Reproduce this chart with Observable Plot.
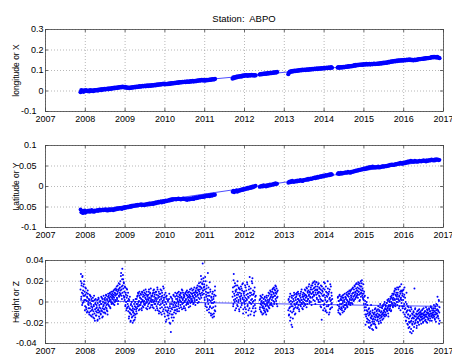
<!DOCTYPE html>
<html>
<head>
<meta charset="utf-8">
<script src="https://cdn.jsdelivr.net/npm/d3@7"></script>
<script src="https://cdn.jsdelivr.net/npm/@observablehq/plot@0.6"></script>
<style>
  body { margin: 0; background: #fff; }
  #wrap { position: relative; width: 452px; height: 354px; background: #fff; overflow: hidden; font-family: 'Liberation Sans', Arial, sans-serif; }
  #title { position: absolute; left: 45px; width: 398px; top: 13px; text-align: center; font-size: 9.5px; color: #000; }
  .panel { position: absolute; left: 0; }
</style>
</head>
<body>
<div id="wrap"><div id="title">Station:&nbsp; ABPO</div></div>
<script>
// ---- Axis ticks ----
const years = [2007, 2008, 2009, 2010, 2011, 2012, 2013, 2014, 2015, 2016, 2017];
const xTicksY1 = [-0.1, 0, 0.1, 0.2, 0.3];
const yTicksY2 = [-0.1, -0.05, 0, 0.05, 0.1];
const zTicksY3 = [-0.04, -0.02, 0, 0.02, 0.04];
// tick labels that sit further left in the original (MATLAB label padding)
const xTicksShift = [-0.1];
const yTicksShift = [-0.1, -0.05, 0.05, 0.1];
const zTicksShift = [-0.04];
const labels = ["longitude or X", "Latitude or Y", "Height or Z"];

// ---- Data segments (start year of each continuous block) ----
const segStarts = [2007.88, 2011.70, 2012.38, 2013.10, 2014.34];
const stepXY = 0.02;   // years between plotted X/Y samples
const stepZ = 0.01;    // years between plotted Z samples (two interleaved passes)

// X (longitude) in mm, per segment
const xS1 = [-6,4,-2,2,-4,3,0,5,1,-1, 2,-2,4,0,3,1,-1,5,2,4, 3,6,2,7,5,8,4,9,6,8, 10,7,11,9,12,8,13,11,10,14,
  12,15,13,16,14,17,15,18,16,19, 17,20,18,22,19,17,20,16,18,15, 17,14,16,15,18,16,19,17,20,18,
  21,19,22,20,24,21,23,22,25,23, 24,26,23,25,27,24,26,28,25,27, 29,26,28,30,27,31,29,32,30,33,
  31,34,32,35,33,36,32,35,34,33, 36,34,37,35,38,36,39,37,40,38, 41,39,42,40,43,41,44,42,45,43,
  44,46,43,45,47,44,46,45,48,46, 47,49,46,48,50,47,51,49,52,50, 53,51,54,52,55,50,53,51,54,52,
  55,53,56,54,57,55,58,56,57,59];
const xS2 = [60,66,63,68,65,70,67,72,69,71, 73,70,75,72,76,74,78,75,77,74, 76,78,75,77,79,76,78,75,77,76];
const xS3 = [80,83,81,84,82,85,83,86,84,85,87,85,88,86,89,87,90,88,91,89,92,90,93];
const xS4 = [82,90,95,93,97,95,98,96,99,97, 100,98,101,99,102,100,103,101,104,102, 103,105,102,104,106,103,105,107,104,106,
  108,105,107,109,106,108,110,107,109,111, 108,110,112,109,111,113,110,112,114,111, 113,115,112,114,116,113];
const xS5 = [114,116,113,115,117,114,116,118,115,117, 119,117,120,118,121,119,122,120,123,121,
  124,126,123,127,125,128,126,129,127,128, 130,127,129,131,128,130,132,129,131,130,
  132,129,131,133,130,132,134,131,133,132, 134,132,135,133,136,134,137,135,138,136,
  139,137,140,138,142,140,144,142,145,143, 146,144,147,145,148,146,149,147,150,148,
  149,151,148,150,152,149,151,153,150,152, 154,151,153,150,152,149,151,153,150,152,
  153,155,154,156,155,157,156,158,157,159, 158,160,159,161,160,162,161,163,165,164,
  166,164,167,165,163,166,164,162,160];

// Y (latitude) in mm, per segment
const yS1 = [-56,-63,-59,-65,-61,-58,-64,-60,-62,-59, -61,-58,-62,-60,-57,-61,-59,-62,-58,-60,
  -59,-57,-60,-58,-56,-59,-57,-58,-56,-58, -57,-55,-58,-56,-59,-57,-55,-58,-56,-57,
  -56,-58,-55,-57,-54,-56,-53,-55,-54,-52, -54,-52,-55,-53,-51,-53,-50,-52,-51,-49,
  -51,-49,-48,-50,-47,-49,-46,-48,-46,-47, -45,-47,-44,-46,-44,-45,-43,-46,-44,-45,
  -46,-44,-45,-43,-44,-42,-44,-41,-43,-42, -41,-43,-40,-42,-39,-41,-38,-40,-37,-39,
  -38,-36,-39,-37,-35,-38,-36,-34,-36,-35, -33,-35,-32,-34,-31,-33,-30,-32,-31,-30,
  -32,-30,-31,-29,-31,-30,-32,-30,-31,-29, -31,-30,-32,-30,-33,-31,-30,-32,-29,-31,
  -30,-28,-31,-29,-27,-29,-26,-28,-27,-25, -27,-25,-26,-24,-26,-23,-25,-24,-22,-24,
  -23,-21,-24,-22,-20,-23,-21,-19,-21,-20];
const yS2 = [-13,-10,-14,-11,-12,-9,-13,-10,-11,-8, -10,-7,-9,-6,-8,-5,-7,-4,-6,-3, -5,-2,-4,-1,-3,0,-2,1,0,2];
const yS3 = [-1,1,0,2,0,3,1,2,0,3,1,4,2,5,3,4,6,4,7,5,8,6,7];
const yS4 = [9,12,10,13,11,14,12,11,13,12, 14,12,15,13,14,16,14,15,13,16, 15,17,16,18,16,19,17,18,20,18,
  19,21,20,22,20,23,21,24,22,23, 25,23,26,24,27,25,26,28,26,27, 29,27,30,28,31,29];
const yS5 = [31,33,30,32,34,31,33,32,34,33, 35,33,34,36,34,35,33,36,35,37, 36,38,37,39,38,40,39,41,40,42,
  41,43,42,44,42,45,43,46,44,47, 45,48,46,47,49,46,48,47,46,48, 47,49,46,48,47,49,48,50,48,49,
  50,49,51,50,52,51,53,52,54,53, 52,54,53,55,54,56,55,57,56,58, 57,55,58,56,59,57,60,58,61,59,
  62,60,63,61,62,60,61,63,61,62, 60,62,61,63,62,61,63,62,64,62, 63,61,64,62,63,65,63,64,66,64,
  65,63,66,64,67,65,66,64,65];

// Z (height) in mm, per segment — first pass
const zS1 = [12,27,5,18,-3,25,8,15,0,20, 6,-8,14,2,-5,9,-10,4,11,-2, -6,3,-12,7,-1,-9,5,-4,-14,1,
  -7,4,-15,-3,6,-11,-18,-2,3,-9, -13,-5,2,-17,-8,4,-10,-3,-16,0, -6,-12,5,-2,-9,3,-14,-4,6,-7,
  -1,-10,4,-5,7,-3,-8,2,-12,5, 0,6,-4,3,9,-6,2,7,-2,4, 8,-1,5,11,2,-3,9,6,13,1,
  7,15,3,10,-2,12,18,5,9,14, 20,8,28,12,3,32,16,22,6,18, 10,2,14,-3,7,-8,4,12,-5,1,
  -9,3,-14,-6,5,-11,-18,-2,-8,-15, -4,-20,-10,2,-13,-7,-17,0,-12,-5, -9,3,-6,6,-2,8,-4,1,10,-7,
  4,-3,7,0,-8,9,2,5,-5,11, 1,6,-2,8,3,-6,10,0,5,-4, 7,2,12,-1,4,9,-5,3,6,0,
  -3,8,2,11,-6,5,1,9,-2,4, 10,-4,3,14,-8,6,0,-11,8,2, -6,12,-2,5,-12,9,1,-9,4,13,
  -3,7,-14,0,-8,5,-17,3,-5,-10, 2,-13,-6,8,-20,-2,-9,-29,4,-15, -7,1,-18,-3,6,-10,0,-5,9,-8,
  3,-4,8,-9,1,5,-2,10,-6,2, 6,-3,9,0,4,-7,11,2,-1,7, -4,5,1,8,-8,3,10,-2,6,0,
  9,2,-5,7,4,12,-1,5,1,8, 3,11,6,-2,9,4,14,1,7,10, 5,13,2,9,16,7,11,0,15,8,
  12,19,6,14,22,9,17,37,11,20, 8,15,2,24,-4,10,5,16,-8,3, 28,-2,9,-10,6,-5,12,1,-13,4,
  -6,8,-15,-1,3,-11,7,-8,15,-4];
const zS2 = [5,14,-2,27,8,0,18,3,10,-6, 12,4,16,-4,7,2,13,-9,9,5, 1,15,6,-3,11,3,18,-7,8,0,
  10,-5,4,14,-10,7,2,17,-3,5, -8,12,0,24,6,-12,9,-2,20,3, 23,-6,7,1,-13,10,-3,5,-9];
const zS3 = [2,-5,6,-9,0,-3,4,-12,-1,-6, 3,-8,-2,5,-10,-4,1,-7,4,-3, -9,0,6,-5,2,8,-3,4,10,-1,
  7,2,12,-4,5,9,14,0,6,11, 3,15,8,-2,10,5];
const zS4 = [-8,3,-12,0,-5,8,-15,-2,-22,4, -24,-4,6,-9,1,-6,7,-3,-11,2, 5,-2,9,0,-5,3,8,-7,1,6,
  -3,4,10,-1,2,-6,7,0,5,-4, 8,2,-2,11,4,6,-5,13,1,9, 3,15,7,-1,10,5,12,0,16,8,
  4,18,9,2,13,6,20,11,-2,15, 7,19,3,12,8,17,0,10,14,5, 9,-4,16,2,-17,11,6,1,13,-3,
  7,-6,18,2,-8,10,0,-10,5,20, -4,8,-12,3,12,-7,1,15,-2,6, -5];
const zS5 = [-3,5,-10,1,-6,7,-2,-12,3,-5, 2,-8,6,-1,-4,4,-9,0,8,-3, -6,3,-1,7,-4,1,10,-2,5,0,
  8,2,-3,11,4,6,-1,13,3,9, 1,12,6,15,3,9,17,5,11,8, 14,4,19,10,7,16,2,12,20,9,
  15,21,6,11,3,8,-2,5,-8,1, -22,-5,-12,0,-16,-9,4,-20,-13,-6, -18,-25,-11,-15,-3,-22,-14,-19,-8,-27,
  -16,-12,-21,-10,-17,-6,-24,-13,-9,-18, -11,-15,-4,-19,-12,-8,-16,-2,-13,-20, -9,-14,-6,-11,-3,-16,-8,-12,0,-7,
  -10,-4,-13,-1,-8,2,-6,-11,3,-3, -7,1,-4,5,-9,0,6,-2,3,-5, 4,8,-1,11,2,-4,7,12,0,5,
  -3,9,3,14,-6,6,1,10,-8,4, 17,2,-4,8,11,-10,5,-2,14,-7, -14,0,-18,9,-9,-21,-4,-12,-25,-16,
  -8,-20,-29,-13,-5,-18,-30,-11,-22,-15, -19,-10,-24,13,-14,-6,-20,-17,-12,-23, -9,-15,-20,-11,-16,-7,-13,-18,-10,-14,
  -21,-12,-8,-16,-11,-19,-6,-13,-15,-9, -12,-17,-5,-14,-10,-20,-8,-11,-16,-13, -7,-12,-18,-9,-4,-14,-11,-6,-15,-10,
  -13,-8,-3,-12,-16,-6,-10,-19,-2,-11, -7,5,-14,-9,2,-21,-5];

// Z (height) in mm — second pass (samples halfway between the first pass)
const zS1b = [20,3,16,9,24,-1,11,6,17,2, 10,-4,7,13,-7,1,5,-9,8,0, -3,-10,2,-6,6,-13,-2,3,-8,-5,
  -12,1,-9,-4,-16,2,-7,-1,-13,-6, -3,-10,-18,-1,-7,3,-14,-5,-9,1, -11,-2,-8,4,-15,-6,0,-10,-3,3,
  -7,2,-11,-1,6,-6,3,-9,-2,8, -3,4,1,8,-5,5,0,10,-1,6, 3,10,-2,7,4,12,0,8,2,11,
  12,4,8,16,1,11,6,13,17,7, 11,25,6,15,22,9,26,13,19,4, 5,15,-4,9,0,13,-6,6,-2,9,
  -4,-16,2,-10,-7,-19,-3,-12,0,-8, -14,-6,-9,-18,-2,-11,-4,-15,3,-7, -2,-11,5,-4,9,0,-8,6,-3,4,
  8,-1,3,-6,10,1,-4,7,0,-2, 9,-3,4,12,-1,7,2,-7,6,3, -2,10,4,-6,8,1,13,-3,5,2,
  6,-5,9,0,12,-2,7,3,-8,10, 1,7,-6,12,-2,4,10,-9,5,-3, 8,-10,3,11,-5,6,-1,15,-7,2,
  -11,4,-5,9,-19,-2,6,-9,-13,1, -8,-16,3,-11,-4,-21,5,-6,-12,-2, 3,-12,-5,7,-15,-1,-8,5,-3,-11,
  -1,6,-7,3,9,-4,0,-9,7,4, 1,8,-5,5,12,-2,3,9,-6,4, 6,0,-6,9,2,-3,7,11,-1,4,
  -2,5,10,1,6,-4,9,3,13,0, 8,1,5,12,-1,9,3,7,-3,11, 9,2,14,6,-1,12,4,18,10,3,
  15,8,25,4,13,18,7,11,23,14, 17,4,12,-2,20,7,13,-5,9,1, 6,14,-7,2,19,-4,10,-11,5,-1,
  2,-12,10,-5,5,-14,0,11,-9,6];
const zS2b = [10,-4,21,2,15,6,-8,11,16,1, 7,-3,20,9,0,14,-7,5,12,3, -5,8,13,-1,17,4,-11,10,2,6,
  -2,16,1,-7,11,3,19,-4,8,-13, 4,15,-6,9,-1,13,2,-9,7,18, 0,11,-4,8,-10,14,2,-6,6];
const zS3b = [-7,3,-2,5,-10,1,-5,7,-4,-11, 0,-6,4,-9,2,-3,-12,6,-1,-8, 2,-4,9,0,-6,3,11,-2,5,7,
  -3,10,4,13,1,8,-2,12,6,16, 9,1,13,4,-4,11];
const zS4b = [2,-13,-6,5,-18,-9,1,-4,6,-10, 0,-16,3,-7,9,-2,-12,4,-5,8, -1,7,-6,3,10,-3,2,-9,6,0,
  8,-4,2,12,-2,5,-7,9,3,-1, 6,12,-3,7,1,14,5,-2,10,3, 11,6,17,1,9,4,14,8,-3,12,
  16,5,10,19,7,14,1,17,9,12, 19,4,11,15,9,2,18,6,13,0, 3,12,-5,8,15,1,10,-8,6,19,
  -2,12,4,-9,15,6,-4,9,1,13, 7,-3,10,-10,4,17,-6,2,9,-1, 3];
const zS5b = [4,-8,1,-4,6,-11,2,-7,5,-2, -6,4,-10,1,7,-5,2,-3,-7,5, 4,-3,9,2,-5,6,0,8,-2,11,
  3,10,-1,6,12,2,8,-2,14,5, 9,2,16,7,10,4,13,18,6,11, 7,17,10,13,1,18,8,15,5,11,
  18,8,13,4,17,2,10,-5,6,-12, -2,-14,-8,-19,-3,-11,-17,-7,-24,-10, -12,-20,-9,-23,-16,-13,-26,-10,-17,-21,
  -11,-19,-14,-7,-22,-15,-12,-25,-8,-14, -17,-7,-14,-21,-9,-13,-5,-18,-10,-15, -5,-12,-17,-4,-10,-13,-2,-9,-14,-6,
  -3,-12,-7,-1,-9,-5,1,-14,-4,-8, 0,-6,3,-3,-8,4,-1,8,-4,2, 7,-3,10,3,13,-2,6,9,3,14,
  7,0,12,2,5,-4,15,8,3,11, -1,10,6,-6,2,12,-4,7,-12,4, -6,-18,-10,-2,-15,-8,-22,-12,-5,-19,
  -24,-14,-9,-19,-26,-7,-16,-21,-12,-28, -9,-16,-13,-21,-7,-18,-14,-11,-25,-16, -12,-19,-8,-14,-22,-10,-17,-12,-9,-15,
  -11,-17,-14,-7,-20,-12,-16,-10,-13,-18, -9,-14,-19,-12,-7,-15,-10,-17,-11,-6, -14,-9,-16,-11,-5,-13,-18,-8,-12,-15,
  -10,-6,-14,-9,-17,-4,-12,-8,-15,-11, -3,-13,-8,-16,1,-10,-18];

// Linear fit lines (end points)
const fitT = [2007.88, 2016.90];
const fitX = [-0.002, 0.162];
const fitY = [-0.063, 0.066];
const fitZ = [0.0012, -0.0042];

// ---- Build tables ----
function build(segs, step, offset) {
  const rows = [];
  segs.forEach((vals, i) => vals.forEach((v, j) => rows.push({t: segStarts[i] + offset + j * step, v: v / 1000})));
  return rows;
}
const dataX = build([xS1, xS2, xS3, xS4, xS5], stepXY, 0);
const dataY = build([yS1, yS2, yS3, yS4, yS5], stepXY, 0);
const dataZ = build([zS1, zS2, zS3, zS4, zS5], stepZ, 0)
  .concat(build([zS1b, zS2b, zS3b, zS4b, zS5b], stepZ, stepZ / 2));
const fitRows = (vals) => fitT.map((t, i) => ({t, v: vals[i]}));

const W = 452, ML = 45, MR = 9, MT = 5, MB = 14;
const fmt = d => String(d);
const FONT = "'Liberation Sans', Arial, sans-serif";

function panel(data, fit, domain, ticks, shifted, label, r, plotH, top) {
  const innerW = W - ML - MR;
  const normal = ticks.filter(t => !shifted.includes(t));
  const svg = Plot.plot({
    width: W, height: plotH + MT + MB,
    marginLeft: ML, marginRight: MR, marginTop: MT, marginBottom: MB,
    style: {fontFamily: FONT, fontSize: "9px", background: "white", color: "#000", overflow: "visible"},
    x: {domain: [2007, 2017]},
    y: {domain},
    marks: [
      Plot.gridX(years, {stroke: "#999", strokeOpacity: 1, strokeWidth: 0.7, strokeDasharray: "1,2"}),
      Plot.gridY(ticks, {stroke: "#999", strokeOpacity: 1, strokeWidth: 0.7, strokeDasharray: "1,2"}),
      Plot.line(fitRows(fit), {x: "t", y: "v", stroke: "#0000ff", strokeWidth: 0.7}),
      Plot.dot(data, {x: "t", y: "v", r, fill: "#0000ff", stroke: "none"}),
      Plot.frame({stroke: "#444", strokeWidth: 0.8}),
      Plot.ruleX(years, {insetTop: plotH - 3, stroke: "#444", strokeWidth: 0.8}),
      Plot.ruleX(years, {insetBottom: plotH - 3, stroke: "#444", strokeWidth: 0.8}),
      Plot.ruleY(ticks, {insetRight: innerW - 3, stroke: "#444", strokeWidth: 0.8}),
      Plot.ruleY(ticks, {insetLeft: innerW - 3, stroke: "#444", strokeWidth: 0.8}),
      Plot.axisX(years, {tickSize: 0, tickPadding: 4, tickFormat: fmt, label: null}),
      Plot.axisY(normal, {tickSize: 0, tickPadding: 2, tickFormat: fmt, label: null}),
      Plot.axisY(shifted, {tickSize: 0, tickPadding: 2, dx: -7, tickFormat: fmt, label: null}),
      Plot.text([label], {frameAnchor: "left", rotate: -90, dx: -29, fontSize: 8.5, textAnchor: "middle"})
    ]
  });
  svg.classList.add("panel");
  svg.style.top = top + "px";
  document.getElementById("wrap").appendChild(svg);
}

panel(dataX, fitX, [-0.1, 0.3], xTicksY1, xTicksShift, labels[0], 2.1, 82, 24);
panel(dataY, fitY, [-0.1, 0.1], yTicksY2, yTicksShift, labels[1], 1.9, 82, 140);
panel(dataZ, fitZ, [-0.04, 0.04], zTicksY3, zTicksShift, labels[2], 1.0, 83, 255);
</script>
</body>
</html>
